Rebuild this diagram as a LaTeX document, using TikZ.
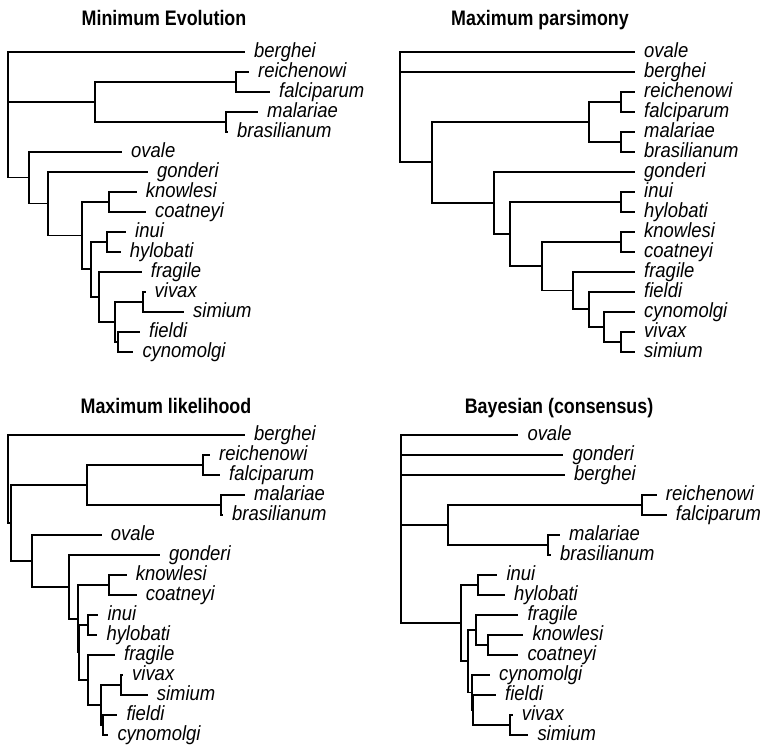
\documentclass[tikz,border=0pt]{standalone}
\usepackage{fontspec}
\setmainfont{Liberation Sans}[FakeStretch=0.9]
\newfontfamily\headfont{Liberation Sans}[FakeStretch=0.85]
\tikzset{
	taxon/.style={anchor=base west, inner sep=0pt, xshift=9pt, yshift=-5.5pt, font=\itshape\fontsize{20.5}{22}\selectfont},
	paneltitle/.style={anchor=base, inner sep=0pt, font=\headfont\bfseries\fontsize{21}{24}\selectfont},
	branch/.style={line width=1.7pt}
}
\begin{document}
\begin{tikzpicture}[x=1pt, y=-1pt]
	\useasboundingbox (0,0) rectangle (767,745);
	\node[paneltitle] (me) at (164,25) {Minimum Evolution};
	\node[paneltitle] (mp) at (540,25) {Maximum parsimony};
	\node[paneltitle] (ml) at (166,413) {Maximum likelihood};
	\node[paneltitle] (by) at (559,413) {Bayesian (consensus)};

	\path (245,51.7) coordinate (a-berghei) node[taxon] (a-berghei-t) {berghei};
	\path (249,71.7) coordinate (a-reichenowi) node[taxon] (a-reichenowi-t) {reichenowi};
	\path (270,91.7) coordinate (a-falciparum) node[taxon] (a-falciparum-t) {falciparum};
	\path (258,111.7) coordinate (a-malariae) node[taxon] (a-malariae-t) {malariae};
	\path (228,131.7) coordinate (a-brasilianum) node[taxon] (a-brasilianum-t) {brasilianum};
	\path (122,151.7) coordinate (a-ovale) node[taxon] (a-ovale-t) {ovale};
	\path (148,171.7) coordinate (a-gonderi) node[taxon] (a-gonderi-t) {gonderi};
	\path (136.7,191.7) coordinate (a-knowlesi) node[taxon] (a-knowlesi-t) {knowlesi};
	\path (146,211.7) coordinate (a-coatneyi) node[taxon] (a-coatneyi-t) {coatneyi};
	\path (126,231.7) coordinate (a-inui) node[taxon] (a-inui-t) {inui};
	\path (120.7,251.7) coordinate (a-hylobati) node[taxon] (a-hylobati-t) {hylobati};
	\path (141.7,271.7) coordinate (a-fragile) node[taxon] (a-fragile-t) {fragile};
	\path (145.5,291.7) coordinate (a-vivax) node[taxon] (a-vivax-t) {vivax};
	\path (184,311.7) coordinate (a-simium) node[taxon] (a-simium-t) {simium};
	\path (140,331.7) coordinate (a-fieldi) node[taxon] (a-fieldi-t) {fieldi};
	\path (133.3,351.7) coordinate (a-cynomolgi) node[taxon] (a-cynomolgi-t) {cynomolgi};
	\coordinate (a1) at (8,114.7);
	\coordinate (a2) at (95,101.7);
	\coordinate (a3) at (29,177.6);
	\coordinate (a4) at (236,81.7);
	\coordinate (a5) at (226,121.7);
	\coordinate (a6) at (48.3,203.6);
	\coordinate (a7) at (81.7,235.5);
	\coordinate (a8) at (109.3,201.7);
	\coordinate (a9) at (90.7,269.2);
	\coordinate (a10) at (107.3,241.7);
	\coordinate (a11) at (98.7,296.7);
	\coordinate (a12) at (115,321.7);
	\coordinate (a13) at (143.3,301.7);
	\coordinate (a14) at (118.3,341.7);
	\draw[branch] (a1) |- (a-berghei) (a1) |- (a2) (a1) |- (a3);
	\draw[branch] (a2) |- (a4) (a2) |- (a5);
	\draw[branch] (a4) |- (a-reichenowi) (a4) |- (a-falciparum);
	\draw[branch] (a5) |- (a-malariae) (a5) |- (a-brasilianum);
	\draw[branch] (a3) |- (a-ovale) (a3) |- (a6);
	\draw[branch] (a6) |- (a-gonderi) (a6) |- (a7);
	\draw[branch] (a7) |- (a8) (a7) |- (a9);
	\draw[branch] (a8) |- (a-knowlesi) (a8) |- (a-coatneyi);
	\draw[branch] (a9) |- (a10) (a9) |- (a11);
	\draw[branch] (a10) |- (a-inui) (a10) |- (a-hylobati);
	\draw[branch] (a11) |- (a-fragile) (a11) |- (a12);
	\draw[branch] (a12) |- (a13) (a12) |- (a14);
	\draw[branch] (a13) |- (a-vivax) (a13) |- (a-simium);
	\draw[branch] (a14) |- (a-fieldi) (a14) |- (a-cynomolgi);

	\path (635,51.7) coordinate (b-ovale) node[taxon] (b-ovale-t) {ovale};
	\path (635,71.7) coordinate (b-berghei) node[taxon] (b-berghei-t) {berghei};
	\path (635,91.7) coordinate (b-reichenowi) node[taxon] (b-reichenowi-t) {reichenowi};
	\path (635,111.7) coordinate (b-falciparum) node[taxon] (b-falciparum-t) {falciparum};
	\path (635,131.7) coordinate (b-malariae) node[taxon] (b-malariae-t) {malariae};
	\path (635,151.7) coordinate (b-brasilianum) node[taxon] (b-brasilianum-t) {brasilianum};
	\path (635,171.7) coordinate (b-gonderi) node[taxon] (b-gonderi-t) {gonderi};
	\path (635,191.7) coordinate (b-inui) node[taxon] (b-inui-t) {inui};
	\path (635,211.7) coordinate (b-hylobati) node[taxon] (b-hylobati-t) {hylobati};
	\path (635,231.7) coordinate (b-knowlesi) node[taxon] (b-knowlesi-t) {knowlesi};
	\path (635,251.7) coordinate (b-coatneyi) node[taxon] (b-coatneyi-t) {coatneyi};
	\path (635,271.7) coordinate (b-fragile) node[taxon] (b-fragile-t) {fragile};
	\path (635,291.7) coordinate (b-fieldi) node[taxon] (b-fieldi-t) {fieldi};
	\path (635,311.7) coordinate (b-cynomolgi) node[taxon] (b-cynomolgi-t) {cynomolgi};
	\path (635,331.7) coordinate (b-vivax) node[taxon] (b-vivax-t) {vivax};
	\path (635,351.7) coordinate (b-simium) node[taxon] (b-simium-t) {simium};
	\coordinate (b1) at (400,107);
	\coordinate (b2) at (431.7,162.3);
	\coordinate (b3) at (589,121.7);
	\coordinate (b4) at (494.3,202.8);
	\coordinate (b5) at (620.7,101.7);
	\coordinate (b6) at (620.7,141.7);
	\coordinate (b7) at (510,233.9);
	\coordinate (b8) at (620.7,201.7);
	\coordinate (b9) at (541.7,266.1);
	\coordinate (b10) at (620.7,241.7);
	\coordinate (b11) at (572.7,290.5);
	\coordinate (b12) at (589,309.2);
	\coordinate (b13) at (604.3,326.7);
	\coordinate (b14) at (620.7,341.7);
	\draw[branch] (b1) |- (b-ovale) (b1) |- (b-berghei) (b1) |- (b2);
	\draw[branch] (b2) |- (b3) (b2) |- (b4);
	\draw[branch] (b3) |- (b5) (b3) |- (b6);
	\draw[branch] (b5) |- (b-reichenowi) (b5) |- (b-falciparum);
	\draw[branch] (b6) |- (b-malariae) (b6) |- (b-brasilianum);
	\draw[branch] (b4) |- (b-gonderi) (b4) |- (b7);
	\draw[branch] (b7) |- (b8) (b7) |- (b9);
	\draw[branch] (b8) |- (b-inui) (b8) |- (b-hylobati);
	\draw[branch] (b9) |- (b10) (b9) |- (b11);
	\draw[branch] (b10) |- (b-knowlesi) (b10) |- (b-coatneyi);
	\draw[branch] (b11) |- (b-fragile) (b11) |- (b12);
	\draw[branch] (b12) |- (b-fieldi) (b12) |- (b13);
	\draw[branch] (b13) |- (b-cynomolgi) (b13) |- (b14);
	\draw[branch] (b14) |- (b-vivax) (b14) |- (b-simium);

	\path (245,435) coordinate (c-berghei) node[taxon] (c-berghei-t) {berghei};
	\path (210,455) coordinate (c-reichenowi) node[taxon] (c-reichenowi-t) {reichenowi};
	\path (220,475) coordinate (c-falciparum) node[taxon] (c-falciparum-t) {falciparum};
	\path (245,495) coordinate (c-malariae) node[taxon] (c-malariae-t) {malariae};
	\path (223,515) coordinate (c-brasilianum) node[taxon] (c-brasilianum-t) {brasilianum};
	\path (101.7,535) coordinate (c-ovale) node[taxon] (c-ovale-t) {ovale};
	\path (160,555) coordinate (c-gonderi) node[taxon] (c-gonderi-t) {gonderi};
	\path (126.7,575) coordinate (c-knowlesi) node[taxon] (c-knowlesi-t) {knowlesi};
	\path (136.7,595) coordinate (c-coatneyi) node[taxon] (c-coatneyi-t) {coatneyi};
	\path (98.3,615) coordinate (c-inui) node[taxon] (c-inui-t) {inui};
	\path (97.3,635) coordinate (c-hylobati) node[taxon] (c-hylobati-t) {hylobati};
	\path (115,655) coordinate (c-fragile) node[taxon] (c-fragile-t) {fragile};
	\path (123,675) coordinate (c-vivax) node[taxon] (c-vivax-t) {vivax};
	\path (147.7,695) coordinate (c-simium) node[taxon] (c-simium-t) {simium};
	\path (117.3,715) coordinate (c-fieldi) node[taxon] (c-fieldi-t) {fieldi};
	\path (108.3,735) coordinate (c-cynomolgi) node[taxon] (c-cynomolgi-t) {cynomolgi};
	\coordinate (c1) at (8.3,479);
	\coordinate (c2) at (11,522.9);
	\coordinate (c3) at (87.3,485);
	\coordinate (c4) at (32.3,560.9);
	\coordinate (c5) at (202.7,465);
	\coordinate (c6) at (220.7,505);
	\coordinate (c7) at (69.3,586.9);
	\coordinate (c8) at (77.7,618.8);
	\coordinate (c9) at (109.3,585);
	\coordinate (c10) at (79.3,652.5);
	\coordinate (c11) at (88.3,625);
	\coordinate (c12) at (88.3,680);
	\coordinate (c13) at (101,705);
	\coordinate (c14) at (120.7,685);
	\coordinate (c15) at (102.7,725);
	\draw[branch] (c1) |- (c-berghei) (c1) |- (c2);
	\draw[branch] (c2) |- (c3) (c2) |- (c4);
	\draw[branch] (c3) |- (c5) (c3) |- (c6);
	\draw[branch] (c5) |- (c-reichenowi) (c5) |- (c-falciparum);
	\draw[branch] (c6) |- (c-malariae) (c6) |- (c-brasilianum);
	\draw[branch] (c4) |- (c-ovale) (c4) |- (c7);
	\draw[branch] (c7) |- (c-gonderi) (c7) |- (c8);
	\draw[branch] (c8) |- (c9) (c8) |- (c10);
	\draw[branch] (c9) |- (c-knowlesi) (c9) |- (c-coatneyi);
	\draw[branch] (c10) |- (c11) (c10) |- (c12);
	\draw[branch] (c11) |- (c-inui) (c11) |- (c-hylobati);
	\draw[branch] (c12) |- (c-fragile) (c12) |- (c13);
	\draw[branch] (c13) |- (c14) (c13) |- (c15);
	\draw[branch] (c14) |- (c-vivax) (c14) |- (c-simium);
	\draw[branch] (c15) |- (c-fieldi) (c15) |- (c-cynomolgi);

	\path (518.3,435) coordinate (d-ovale) node[taxon] (d-ovale-t) {ovale};
	\path (563.3,455) coordinate (d-gonderi) node[taxon] (d-gonderi-t) {gonderi};
	\path (565,475) coordinate (d-berghei) node[taxon] (d-berghei-t) {berghei};
	\path (656.7,495) coordinate (d-reichenowi) node[taxon] (d-reichenowi-t) {reichenowi};
	\path (666.7,515) coordinate (d-falciparum) node[taxon] (d-falciparum-t) {falciparum};
	\path (560,535) coordinate (d-malariae) node[taxon] (d-malariae-t) {malariae};
	\path (551,555) coordinate (d-brasilianum) node[taxon] (d-brasilianum-t) {brasilianum};
	\path (497.3,575) coordinate (d-inui) node[taxon] (d-inui-t) {inui};
	\path (505,595) coordinate (d-hylobati) node[taxon] (d-hylobati-t) {hylobati};
	\path (518.3,615) coordinate (d-fragile) node[taxon] (d-fragile-t) {fragile};
	\path (523.3,635) coordinate (d-knowlesi) node[taxon] (d-knowlesi-t) {knowlesi};
	\path (518.3,655) coordinate (d-coatneyi) node[taxon] (d-coatneyi-t) {coatneyi};
	\path (490,675) coordinate (d-cynomolgi) node[taxon] (d-cynomolgi-t) {cynomolgi};
	\path (496,695) coordinate (d-fieldi) node[taxon] (d-fieldi-t) {fieldi};
	\path (512.7,715) coordinate (d-vivax) node[taxon] (d-vivax-t) {vivax};
	\path (528.3,735) coordinate (d-simium) node[taxon] (d-simium-t) {simium};
	\coordinate (d1) at (400.7,529);
	\coordinate (d2) at (448.3,525);
	\coordinate (d3) at (461,623.1);
	\coordinate (d4) at (641.7,505);
	\coordinate (d5) at (548.3,545);
	\coordinate (d6) at (478.3,585);
	\coordinate (d7) at (468.3,661.3);
	\coordinate (d8) at (476.3,630);
	\coordinate (d9) at (471.7,692.5);
	\coordinate (d10) at (488.3,645);
	\coordinate (d11) at (473.3,710);
	\coordinate (d12) at (510,725);
	\draw[branch] (d1) |- (d-ovale) (d1) |- (d-gonderi) (d1) |- (d-berghei) (d1) |- (d2) (d1) |- (d3);
	\draw[branch] (d2) |- (d4) (d2) |- (d5);
	\draw[branch] (d4) |- (d-reichenowi) (d4) |- (d-falciparum);
	\draw[branch] (d5) |- (d-malariae) (d5) |- (d-brasilianum);
	\draw[branch] (d3) |- (d6) (d3) |- (d7);
	\draw[branch] (d6) |- (d-inui) (d6) |- (d-hylobati);
	\draw[branch] (d7) |- (d8) (d7) |- (d9);
	\draw[branch] (d8) |- (d-fragile) (d8) |- (d10);
	\draw[branch] (d10) |- (d-knowlesi) (d10) |- (d-coatneyi);
	\draw[branch] (d9) |- (d-cynomolgi) (d9) |- (d11);
	\draw[branch] (d11) |- (d-fieldi) (d11) |- (d12);
	\draw[branch] (d12) |- (d-vivax) (d12) |- (d-simium);
\end{tikzpicture}
\end{document}
